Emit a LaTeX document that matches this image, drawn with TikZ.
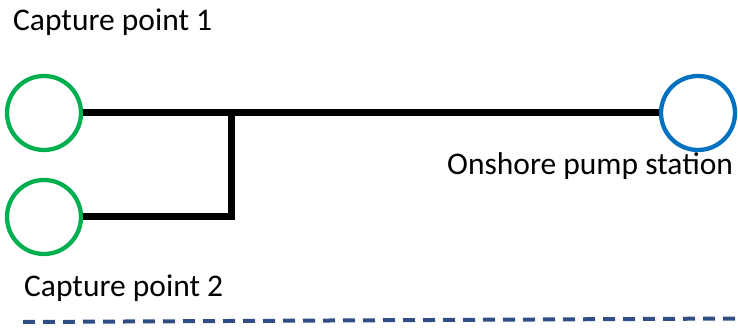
\documentclass[tikz,border=0pt]{standalone}
\usepackage{fontspec}
\setmainfont{Carlito}
\definecolor{capgreen}{HTML}{00B050}
\definecolor{pumpblue}{HTML}{0070C0}
\definecolor{dashblue}{HTML}{2F4E85}
\begin{document}
\begin{tikzpicture}[x=1pt,y=-1pt,
  site/.style={circle,draw,line width=4.3pt,inner sep=0pt,minimum size=74pt},
  pipe/.style={line width=7pt,black,line join=miter},
  lbl/.style={anchor=base west,inner sep=0pt,font=\fontsize{31.5}{36}\selectfont}]
\useasboundingbox (0,0) rectangle (738,328);
\node[site,draw=capgreen] (c1) at (44,113) {};
\node[site,draw=capgreen] (c2) at (44,217) {};
\node[site,draw=pumpblue] (ps) at (698,113) {};
\coordinate (j) at (231,113);
\draw[pipe] (c1.east) -- (ps.west);
\draw[pipe] (c2.east) -| (j);
\node[lbl] (t1) at (13,31) {Capture point 1};
\node[lbl] (t2) at (24,297) {Capture point 2};
\node[lbl] (t3) at (447,175) {Onshore pump station};
\coordinate (d1) at (23,322);
\coordinate (d2) at (738,318.5);
\draw[dashblue,line width=4pt,dash pattern=on 12pt off 8pt] (d1) -- (d2);
\end{tikzpicture}
\end{document}
